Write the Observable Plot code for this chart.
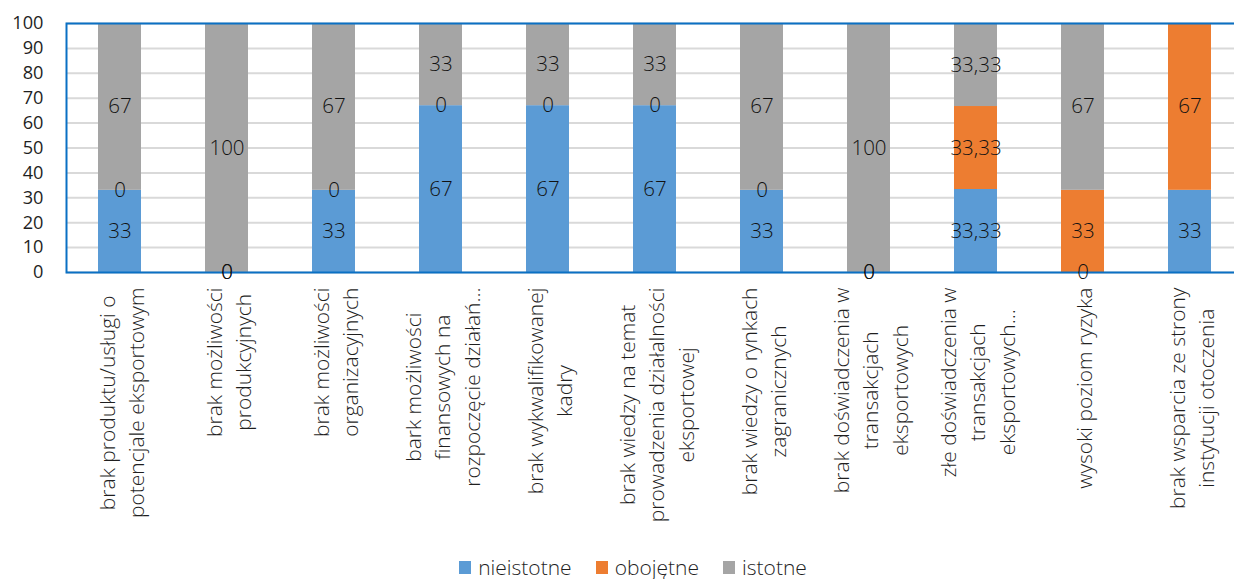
<!DOCTYPE html>
<html>
<head>
<meta charset="utf-8">
<script src="https://cdn.jsdelivr.net/npm/d3@7"></script>
<script src="https://cdn.jsdelivr.net/npm/@observablehq/plot@0.6"></script>
<style>
  html, body { margin: 0; padding: 0; background: #fff; overflow: hidden; }
  #chart svg { display: block; }
  .legend { display: flex; justify-content: center; align-items: center; height: 30px;
            font-family: "Open Sans", sans-serif; font-weight: 300; font-size: 21px; color: #1f1f1f; padding-left: 32px; }
  .legend .item { display: flex; align-items: center; margin: 0 12px; }
  .legend .sw { width: 12px; height: 13px; margin-right: 7px; }
</style>
</head>
<body>
<div id="chart"></div>
<div class="legend" id="legend"></div>
<script>
const categories = [
  "brak produktu/usługi o\npotencjale eksportowym",
  "brak możliwości\nprodukcyjnych",
  "brak możliwości\norganizacyjnych",
  "bark możliwości\nfinansowych na\nrozpoczęcie działań…",
  "brak wykwalifikowanej\nkadry",
  "brak wiedzy na temat\nprowadzenia działalności\neksportowej",
  "brak wiedzy o rynkach\nzagranicznych",
  "brak doświadczenia w\ntransakcjach\neksportowych",
  "złe doświadczenia w\ntransakcjach\neksportowych…",
  "wysoki poziom ryzyka",
  "brak wsparcia ze strony\ninstytucji otoczenia"
];
const nieistotne = [33, 0, 33, 67, 67, 67, 33, 0, 33.33, 0, 33];
const obojetne   = [0, 0, 0, 0, 0, 0, 0, 0, 33.33, 33, 67];
const istotne    = [67, 100, 67, 33, 33, 33, 67, 100, 33.33, 67, null];
const seriesNames = ["nieistotne", "obojętne", "istotne"];
const seriesColors = ["#5B9BD5", "#ED7D31", "#A5A5A5"];
const yTicks = [0, 10, 20, 30, 40, 50, 60, 70, 80, 90, 100];

const seriesValues = [nieistotne, obojetne, istotne];
const rows = [];
seriesNames.forEach((s, si) => {
  categories.forEach((c, ci) => {
    const v = seriesValues[si][ci];
    if (v != null) rows.push({cat: c, series: s, value: v});
  });
});

const fmt = v => String(v).replace(".", ",");
const FONT = "'Open Sans', sans-serif";
const labelSize = 21;
const valueSize = 20.5;
const tickSize = 18.2;

// measure label widths to align the top end of each rotated label block
const ctx = document.createElement("canvas").getContext("2d");
ctx.font = `300 ${labelSize}px ${FONT}`;
const maxW = c => Math.max(...c.split("\n").map(l => ctx.measureText(l).width));

const W = 1234, H = 552;
const labelMarks = categories.map(c => Plot.text([c], {
  x: d => d, text: d => d, frameAnchor: "bottom", rotate: -90,
  textAnchor: "middle", lineAnchor: "middle", lineHeight: 1.39,
  dy: 15 + maxW(c) / 2, fontSize: labelSize, fill: "#1f1f1f"
}));

const chart = Plot.plot({
  width: W, height: H,
  marginTop: 23, marginBottom: H - 272, marginLeft: 66, marginRight: -9,
  style: {fontFamily: FONT, fontWeight: 300, fontSize: valueSize + "px", color: "#1f1f1f", background: "#fff"},
  x: {domain: categories, paddingInner: 0.6, paddingOuter: 0.3, axis: null},
  y: {domain: [0, 100], ticks: yTicks, axis: null},
  color: {domain: seriesNames, range: seriesColors},
  marks: [
    Plot.gridY(yTicks, {stroke: "#D9D9D9", strokeOpacity: 1, strokeWidth: 2}),
    Plot.axisY(yTicks, {tickSize: 0, tickPadding: 23, fontSize: tickSize, fontWeight: 400, fill: "#1f1f1f", label: null}),
    Plot.barY(rows, {x: "cat", y: "value", fill: "series", z: "series"}),
    Plot.frame({stroke: "#0A70C4", strokeWidth: 2}),
    Plot.text(rows, Plot.stackY({x: "cat", y: "value", z: "series", text: d => fmt(d.value), fill: "#111", fontSize: valueSize})),
    ...labelMarks
  ]
});
document.getElementById("chart").appendChild(chart);

const legend = document.getElementById("legend");
seriesNames.forEach((s, i) => {
  const item = document.createElement("div");
  item.className = "item";
  item.innerHTML = `<span class="sw" style="background:${seriesColors[i]}"></span><span>${s}</span>`;
  legend.appendChild(item);
});
</script>
</body>
</html>
